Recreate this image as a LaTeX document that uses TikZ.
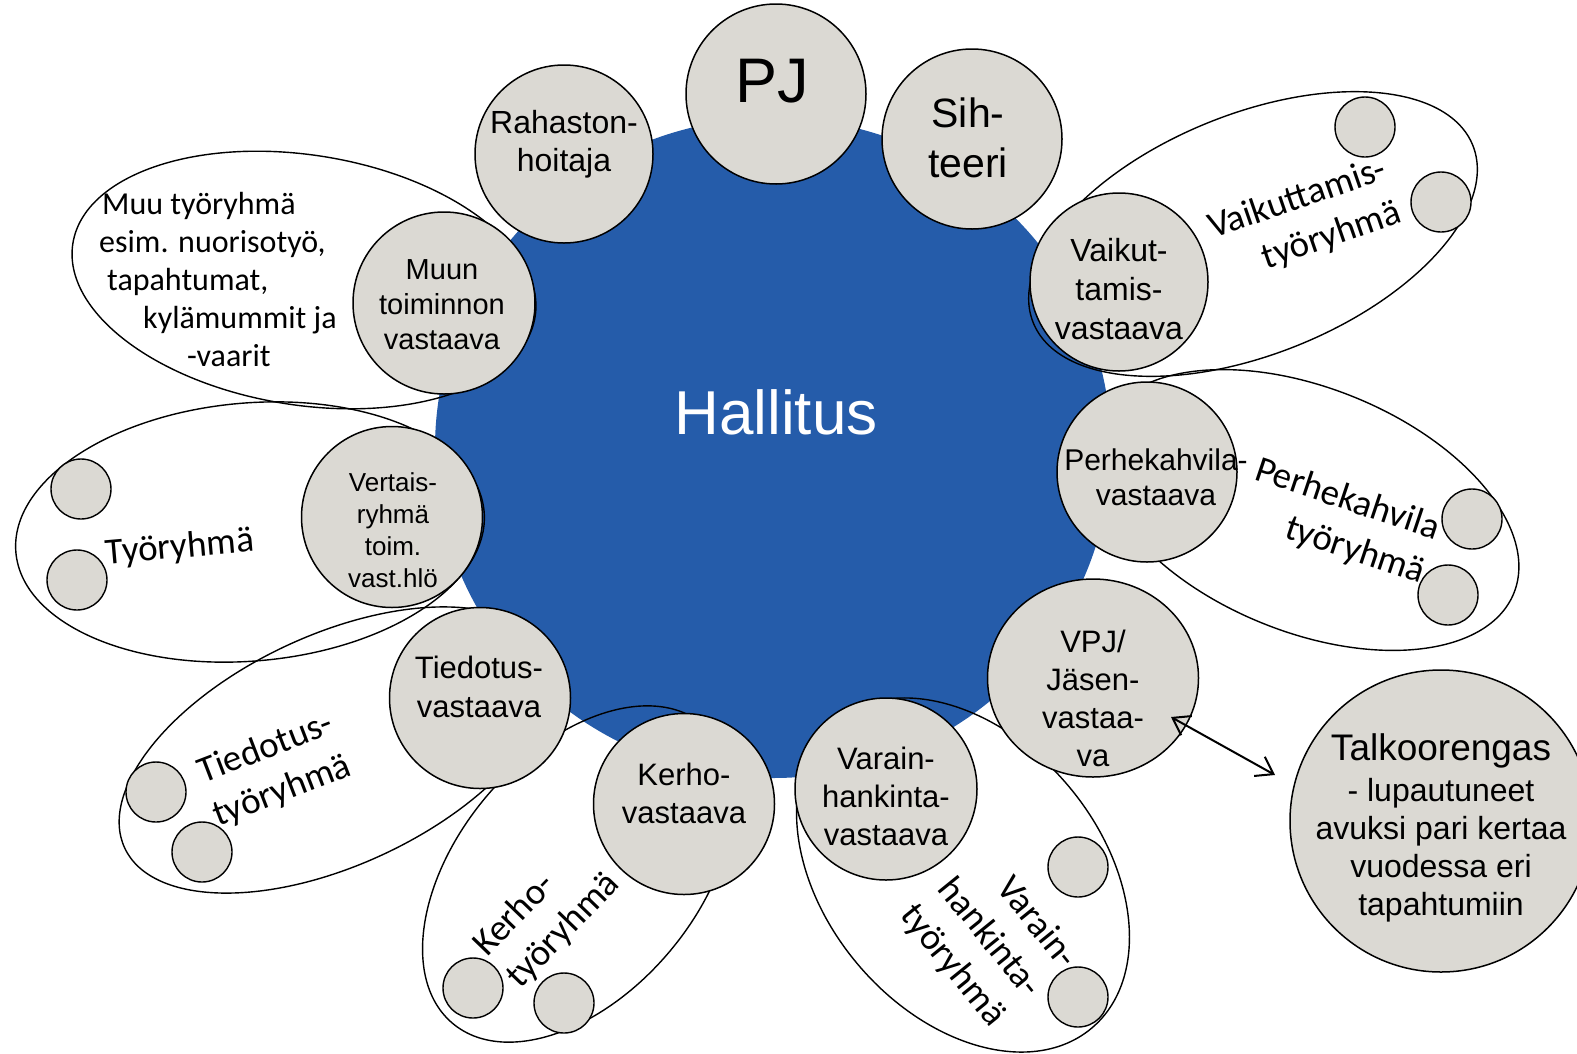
\documentclass[tikz,border=0pt]{standalone}
\usepackage{fontspec}
\setmainfont{Liberation Sans}
\newfontfamily\calib{Carlito}
\usetikzlibrary{arrows.meta,shapes.geometric}
\definecolor{grayc}{RGB}{219,217,211}
\definecolor{bluec}{RGB}{37,92,170}
\begin{document}
\begin{tikzpicture}[x=1pt,y=-1pt,
  gc/.style={circle,draw=black,fill=grayc,line width=1.5pt,inner sep=0pt,minimum size=#1},
  sc/.style={circle,draw=black,fill=grayc,line width=1.4pt,inner sep=0pt,minimum size=60pt},
  grp/.style={ellipse,draw=black,line width=1.4pt,inner sep=0pt},
  ctxt/.style={align=center,inner sep=0pt,text=black},
  lbl/.style={font=\calib\fontsize{37}{46}\selectfont,inner sep=0pt,text=black},
  arr/.style={line width=2pt,{Straight Barb[length=16pt,width=22pt]}-{Straight Barb[length=16pt,width=22pt]}}
]
\fill[white] (0,0) rectangle (1577,1053);
\useasboundingbox (0,0) rectangle (1577,1053);

% central board
\node[ellipse,fill=bluec,minimum width=676pt,minimum height=660pt,inner sep=0pt] (hall) at (773,448) {};

% work group ellipses
\node[grp,minimum width=468pt,minimum height=250pt,rotate=-9] (gmuu) at (304,280) {};
\node[grp,minimum width=470pt,minimum height=258pt,rotate=5] (gtyo) at (250,532) {};
\node[grp,minimum width=464pt,minimum height=230pt,rotate=25] (gtied) at (335,750) {};
\node[grp,minimum width=390pt,minimum height=240pt,rotate=50] (gkerho) at (578,874) {};
\node[grp,minimum width=400pt,minimum height=276pt,rotate=-50] (gvarain) at (963,875) {};
\node[grp,minimum width=444pt,minimum height=244pt,rotate=-22] (gperhe) at (1308,510) {};
\node[grp,minimum width=474pt,minimum height=240pt,rotate=22] (gvaik) at (1253,234) {};

% board member circles
\node[gc=180pt] (pj) at (776,94) {};
\node[gc=180pt] (sih) at (972,139) {};
\node[gc=178pt] (rah) at (564,154) {};
\node[gc=182pt] (muun) at (444,303) {};
\node[gc=181pt] (vert) at (392,517) {};
\node[gc=181pt] (tied) at (480,698) {};
\node[gc=181pt] (kerho) at (684,804) {};
\node[gc=182pt] (varain) at (886,789) {};
\node[ellipse,draw=black,fill=grayc,line width=1.5pt,inner sep=0pt,minimum width=211pt,minimum height=198pt] (vpj) at (1093,678) {};
\node[gc=178pt] (vaik) at (1119,282) {};
\node[gc=180pt] (perhe) at (1147,472) {};
\node[gc=302pt] (talk) at (1441,821) {};

% small member circles
\node[sc] (s1) at (1365,127) {};
\node[sc] (s2) at (1441,202) {};
\node[sc] (s3) at (1472,519) {};
\node[sc] (s4) at (1448,595) {};
\node[sc] (s5) at (1078,867) {};
\node[sc] (s6) at (1078,997) {};
\node[sc] (s7) at (473,988) {};
\node[sc] (s8) at (564,1003) {};
\node[sc] (s9) at (156,792) {};
\node[sc] (s10) at (202,852) {};
\node[sc] (s11) at (81,489) {};
\node[sc] (s12) at (77,580) {};

% arrow
\coordinate (a1) at (1171,717);
\coordinate (a2) at (1275,775);
\draw[arr] (a1) -- (a2);

% texts
\node[ctxt,text=white,font=\fontsize{62}{70}\selectfont] (hallt) at (776,412) {Hallitus};
\node[ctxt,font=\fontsize{63}{70}\selectfont] (pjt) at (772,81) {PJ};
\node[ctxt,font=\fontsize{41}{50}\selectfont] (siht) at (968,138) {Sih-\\teeri};
\node[ctxt,font=\fontsize{32}{38}\selectfont] (raht) at (564,144) {Rahaston-\\hoitaja};
\node[ctxt,font=\fontsize{29}{35}\selectfont] (muunt) at (442,305) {Muun\\toiminnon\\vastaava};
\node[ctxt,font=\fontsize{26}{32}\selectfont] (vertt) at (393,530) {Vertais-\\ryhmä\\toim.\\vast.hlö};
\node[ctxt,font=\fontsize{31}{39}\selectfont] (tiedt) at (479,687) {Tiedotus-\\vastaava};
\node[ctxt,font=\fontsize{31}{38}\selectfont] (kerhot) at (684,793) {Kerho-\\vastaava};
\node[ctxt,font=\fontsize{31}{38}\selectfont] (varaint) at (886,796) {Varain-\\hankinta-\\vastaava};
\node[ctxt,font=\fontsize{31}{38}\selectfont] (vpjt) at (1093,698) {VPJ/\\Jäsen-\\vastaa-\\va};
\node[ctxt,font=\fontsize{32}{39}\selectfont] (vaikt) at (1119,289) {Vaikut-\\tamis-\\vastaava};
\node[ctxt,font=\fontsize{30}{35}\selectfont] (perhet) at (1156,477) {Perhekahvila-\\vastaava};
\node[ctxt,font=\fontsize{32}{38}\selectfont] (talkt) at (1441,828) {{\fontsize{37}{44}\selectfont Talkoorengas}\\[3pt]- lupautuneet\\avuksi pari kertaa\\vuodessa eri\\tapahtumiin};

% group labels
\node[lbl,rotate=5] (tyot) at (180,548) {Työryhmä};
\node[lbl,rotate=19,align=right] (vaikg) at (1305,221) {Vaikuttamis-\\työryhmä};
\node[lbl,rotate=-18.5,align=right] (perheg) at (1340,522) {Perhekahvila\\työryhmä};
\node[lbl,rotate=21,align=center] (tiedg) at (274,770) {Tiedotus-\\työryhmä};
\node[lbl,rotate=46,align=left] (kerhog) at (547,915) {Kerho-\\työryhmä};
\node[lbl,rotate=-51,align=right] (varaing) at (988,937) {Varain-\\hankinta-\\työryhmä};
\node[font=\calib\fontsize{32}{38}\selectfont,align=left,anchor=west,inner sep=0pt] (muug) at (99,279) {\hspace*{3pt}Muu työryhmä\\esim. nuorisotyö,\\\hspace*{8pt}tapahtumat,\\\hspace*{44pt}kylämummit ja\\\hspace*{88pt}-vaarit};
\end{tikzpicture}
\end{document}
